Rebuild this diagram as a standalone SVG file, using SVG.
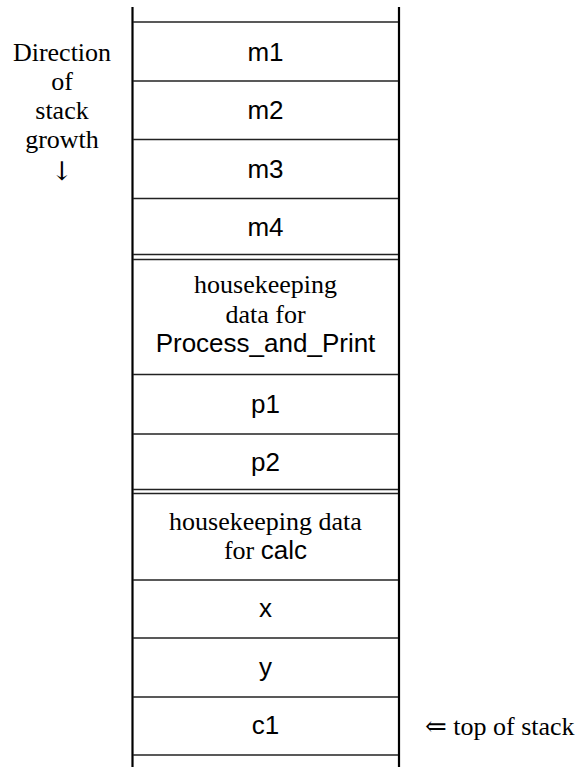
<svg xmlns="http://www.w3.org/2000/svg" width="584" height="767" viewBox="0 0 584 767">
  <style>
    .sans { font-family: "Liberation Sans", Arial, sans-serif; font-size: 26px; fill: #000; text-anchor: middle; }
    .serif { font-family: "Liberation Serif", "DejaVu Serif", serif; font-size: 26px; fill: #000; text-anchor: middle; }
    .arrow { font-family: "DejaVu Serif", serif; fill: #000; }
    .wall { stroke: #000; stroke-width: 2.2; fill: none; }
    .sep { stroke: #222; stroke-width: 1.3; fill: none; }
  </style>
  <rect width="584" height="767" fill="#fff"/>

  <!-- stack frame: side walls and slot separators -->
  <g id="frame">
    <line class="wall" x1="132.5" y1="7" x2="132.5" y2="767"/>
    <line class="wall" x1="399" y1="7" x2="399" y2="767"/>
    <g class="sep">
      <line x1="133" y1="22" x2="398" y2="22"/>
      <line x1="133" y1="81" x2="398" y2="81"/>
      <line x1="133" y1="139.5" x2="398" y2="139.5"/>
      <line x1="133" y1="198.5" x2="398" y2="198.5"/>
      <line x1="133" y1="254.5" x2="398" y2="254.5"/>
      <line x1="133" y1="259.5" x2="398" y2="259.5"/>
      <line x1="133" y1="374.5" x2="398" y2="374.5"/>
      <line x1="133" y1="434" x2="398" y2="434"/>
      <line x1="133" y1="489.5" x2="398" y2="489.5"/>
      <line x1="133" y1="493.5" x2="398" y2="493.5"/>
      <line x1="133" y1="580" x2="398" y2="580"/>
      <line x1="133" y1="638" x2="398" y2="638"/>
      <line x1="133" y1="697" x2="398" y2="697"/>
      <line x1="133" y1="755" x2="398" y2="755"/>
    </g>
  </g>

  <!-- side note -->
  <g id="growth-note">
    <text class="serif" x="62" y="61">Direction</text>
    <text class="serif" x="62" y="90">of</text>
    <text class="serif" x="62" y="119">stack</text>
    <text class="serif" x="62" y="148">growth</text>
    <text class="serif arrow" x="62" y="180" font-size="22">↓</text>
  </g>

  <!-- stack slots -->
  <g id="slot-m1"><text class="sans" x="265.5" y="61">m1</text></g>
  <g id="slot-m2"><text class="sans" x="265.5" y="119">m2</text></g>
  <g id="slot-m3"><text class="sans" x="265.5" y="178">m3</text></g>
  <g id="slot-m4"><text class="sans" x="265.5" y="236">m4</text></g>
  <g id="slot-hk-process">
    <text class="serif" x="265.5" y="293">housekeeping</text>
    <text class="serif" x="265.5" y="323">data for</text>
    <text class="sans" x="265.5" y="352">Process_and_Print</text>
  </g>
  <g id="slot-p1"><text class="sans" x="265.5" y="413">p1</text></g>
  <g id="slot-p2"><text class="sans" x="265.5" y="471">p2</text></g>
  <g id="slot-hk-calc">
    <text class="serif" x="265.5" y="530">housekeeping data</text>
    <text class="serif" x="265.5" y="559">for <tspan class="sans">calc</tspan></text>
  </g>
  <g id="slot-x"><text class="sans" x="265.5" y="617">x</text></g>
  <g id="slot-y"><text class="sans" x="265.5" y="676">y</text></g>
  <g id="slot-c1"><text class="sans" x="265.5" y="734">c1</text></g>

  <!-- top-of-stack marker -->
  <g id="top-marker">
    <text class="serif" x="425" y="735" style="text-anchor:start"><tspan class="arrow" font-size="26">⇐</tspan> top of stack</text>
  </g>
</svg>
